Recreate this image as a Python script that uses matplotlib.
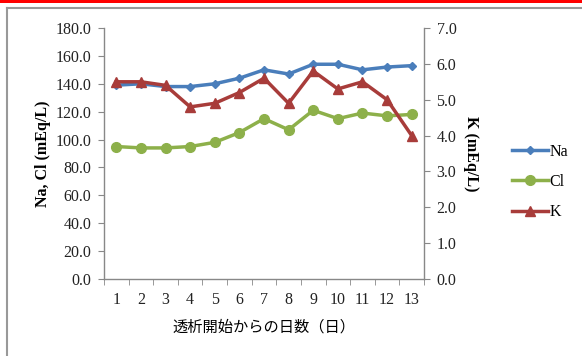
import matplotlib
matplotlib.use("Agg")
import matplotlib.pyplot as plt
from matplotlib.lines import Line2D
from matplotlib.patches import Rectangle

days = ["1", "2", "3", "4", "5", "6", "7", "8", "9", "10", "11", "12", "13"]
na = [139, 140, 138, 138, 140, 144, 150, 147, 154, 154, 150, 152, 153]
cl = [95, 94, 94, 95, 98, 105, 115, 107, 121, 115, 119, 117, 118]
k = [5.5, 5.5, 5.4, 4.8, 4.9, 5.2, 5.6, 4.9, 5.8, 5.3, 5.5, 5.0, 4.0]
left_ticks = [0, 20, 40, 60, 80, 100, 120, 140, 160, 180]
right_ticks = [0, 1, 2, 3, 4, 5, 6, 7]

c_na = "#4A7EBB"
c_cl = "#8DB04A"
c_k = "#A83C3A"
axis_c = "#888888"

serif = ["Liberation Serif", "DejaVu Serif"]
jp = ["Noto Sans CJK JP", "DejaVu Sans"]

W, H = 582, 356
fig = plt.figure(figsize=(W / 100, H / 100), dpi=100)

# red strip at top
fig.add_artist(Rectangle((0, 1 - 3 / H), 1, 3 / H, transform=fig.transFigure,
                         facecolor="#FF0000", edgecolor="none"))
# outer gray frame
fig.add_artist(Line2D([6.5 / W, 1], [1 - 7.5 / H, 1 - 7.5 / H], transform=fig.transFigure,
                      color="#999999", lw=1.5))
fig.add_artist(Line2D([6.5 / W, 6.5 / W], [0, 1 - 7.5 / H], transform=fig.transFigure,
                      color="#999999", lw=1.5))

x0, x1 = 104, 424
y0, y1 = 28, 279
ax = fig.add_axes([x0 / W, 1 - y1 / H, (x1 - x0) / W, (y1 - y0) / H])
ax2 = ax.twinx()

n = len(days)
xs = list(range(1, n + 1))
ax.set_xlim(0.5, n + 0.5)
ax.set_ylim(0, 180)
ax2.set_ylim(0, 7)

ln_na, = ax.plot(xs, na, color=c_na, lw=2.5, marker="D", ms=4.5, label="Na", zorder=3)
ln_cl, = ax.plot(xs, cl, color=c_cl, lw=2.5, marker="o", ms=7, label="Cl", zorder=3)
ln_k, = ax2.plot(xs, k, color=c_k, lw=2.5, marker="^", ms=7, label="K", zorder=3)

for a in (ax, ax2):
    for s in a.spines.values():
        s.set_visible(False)
ax.spines["left"].set_visible(True)
ax.spines["bottom"].set_visible(True)
ax2.spines["right"].set_visible(True)
for s in (ax.spines["left"], ax.spines["bottom"], ax2.spines["right"]):
    s.set_color(axis_c)
    s.set_linewidth(1.0)

ax.set_yticks(left_ticks)
ax.set_yticklabels([f"{v:.1f}" for v in left_ticks], fontfamily=serif, fontsize=11.5)
ax2.set_yticks(right_ticks)
ax2.set_yticklabels([f"{v:.1f}" for v in right_ticks], fontfamily=serif, fontsize=11.5)
ax.set_xticks(xs)
ax.set_xticklabels(days, fontfamily=serif, fontsize=11.5)
ax.set_xticks([i + 0.5 for i in range(0, n + 1)], minor=True)
ax.tick_params(axis="x", which="major", length=0, pad=9, colors="#222222")
ax.tick_params(axis="x", which="minor", length=4, color=axis_c, direction="out")
ax.tick_params(axis="y", length=4, color=axis_c, direction="out", pad=5, labelcolor="#222222")
ax2.tick_params(axis="y", length=4, color=axis_c, direction="out", pad=5, labelcolor="#222222")

ax.set_ylabel("Na, Cl (mEq/L)", fontfamily=serif, fontsize=11.5, fontweight="bold", labelpad=3)
ax2.set_ylabel("K (mEq/L)", fontfamily=serif, fontsize=11.5, fontweight="bold",
               rotation=-90, labelpad=16)
ax.set_xlabel("透析開始からの日数（日）", fontfamily=jp, fontsize=11, labelpad=8)

leg = fig.legend(handles=[ln_na, ln_cl, ln_k], loc="center left",
                 bbox_to_anchor=(498 / W, 1 - 182 / H), frameon=False,
                 prop={"family": serif, "size": 11.5}, handlelength=2.2,
                 handletextpad=0.1, labelspacing=0.9)

fig.savefig("out.png", dpi=100, facecolor="white")
